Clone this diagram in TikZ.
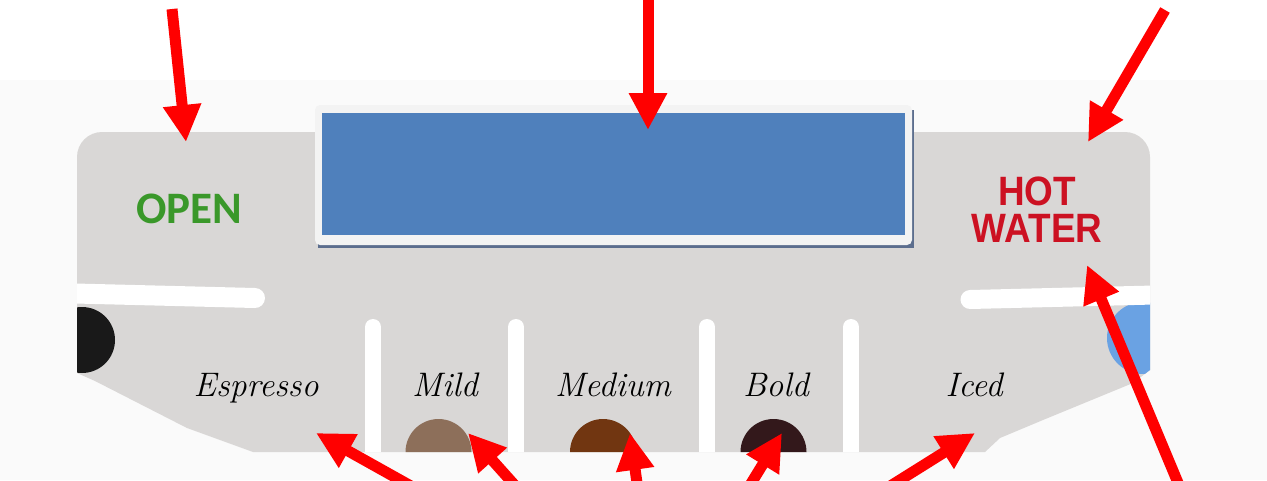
\documentclass[tikz,border=0pt]{standalone}
\usepackage{fontspec}
\usetikzlibrary{arrows.meta}
\newfontfamily\openfont{Carlito}
\newfontfamily\hotfont{Liberation Sans}
\definecolor{panel}{HTML}{D9D7D6}
\definecolor{bgband}{HTML}{FAFAFA}
\definecolor{dispblue}{HTML}{4F80BC}
\definecolor{dispframe}{HTML}{F3F3F3}
\definecolor{dispshadow}{HTML}{5C6E8E}
\definecolor{opengreen}{HTML}{3A982A}
\definecolor{hotred}{HTML}{CC1122}
\definecolor{mildc}{HTML}{8D6F5A}
\definecolor{mediumc}{HTML}{713611}
\definecolor{boldc}{HTML}{33181B}
\definecolor{bluebtn}{HTML}{6AA2E3}
\definecolor{arrowred}{HTML}{FF0000}
\tikzset{
  callout/.style={draw=arrowred, line width=11pt, -{Triangle[length=37pt,width=36pt]}},
  slot/.style={draw=white, line cap=round},
  hand/.style={font=\fontsize{34}{36}\selectfont\itshape, text=black, anchor=base, inner sep=0pt},
}
\def\panelpath{(77,157) arc[start angle=180,end angle=270,radius=25] -- (1125,132)
  arc[start angle=270,end angle=360,radius=25] -- (1150,370) -- (1133,383) -- (1043,420)
  -- (1000,438) -- (985,452) -- (253,452) -- (187,428) -- (95,381) -- (77,373) -- cycle}
\begin{document}
\begin{tikzpicture}[x=1pt,y=-1pt]
\clip (0,0) rectangle (1267,480);
\fill[white] (0,0) rectangle (1267,480);
\fill[bgband] (0,80) rectangle (1267,480);
% panel shape
\fill[panel] \panelpath;
\begin{scope}
  \clip \panelpath;
  % side buttons
  \fill[black!90] (82,340) circle[radius=33];
  \fill[bluebtn] (1143,338) circle[radius=36];
  % white slots
  \draw[slot, line width=20pt] (55,293) -- (255,298);
  \draw[slot, line width=19pt] (970,299.5) -- (1175,294.5);
  \foreach \sx/\sn in {373/s1,516/s2,707/s3,851/s4}{
    \draw[slot, line width=16pt] (\sx,327) coordinate (\sn) -- (\sx,475);
  }
  % coffee strength dots
  \fill[mildc] (438.5,452) circle[radius=33];
  \fill[mediumc] (603,452) circle[radius=33];
  \fill[boldc] (773.5,452) circle[radius=33];
\end{scope}
% display
\fill[dispshadow] (318,110) rectangle (914,248);
\fill[dispframe, rounded corners=5pt] (315,105) rectangle (912,245);
\fill[dispblue] (322,113) rectangle (905,235);
\node[inner sep=0pt, minimum width=583pt, minimum height=122pt] (display) at (613.5,174) {};
% labels
\node[font=\openfont\bfseries\fontsize{45}{45}\selectfont, text=opengreen, anchor=base, inner sep=0pt] (open) at (189,223) {OPEN};
\node[font=\hotfont\bfseries\fontsize{41}{37}\selectfont, text=hotred, align=center, inner sep=0pt, xscale=0.9] (hot) at (1037,210) {HOT\\WATER};
\node[hand] (espresso) at (256,396) {Espresso};
\node[hand] (mild) at (445,396) {Mild};
\node[hand] (medium) at (613,396) {Medium};
\node[hand] (bold) at (776,396) {Bold};
\node[hand] (iced) at (974,396) {Iced};
% arrow end points
\coordinate (tOpen) at (186,142);
\coordinate (tDisp) at (648,130);
\coordinate (tHot) at (1088,142);
\coordinate (tHotB) at (1087,265);
\coordinate (tEsp) at (316,433);
\coordinate (tMild) at (468,433);
\coordinate (tMed) at (630,433);
\coordinate (tBold) at (782,433);
\coordinate (tIced) at (975,433);
\coordinate (sOpen) at (172,9);
\coordinate (sDisp) at (648,-5);
\coordinate (sHot) at (1165,10);
\coordinate (sHotB) at (1181,490);
\coordinate (sEsp) at (418,490);
\coordinate (sMild) at (519,490);
\coordinate (sMed) at (638,490);
\coordinate (sBold) at (747,490);
\coordinate (sIced) at (884,490);
\draw[callout] (sOpen) -- (tOpen);
\draw[callout] (sDisp) -- (tDisp);
\draw[callout] (sHot) -- (tHot);
\draw[callout] (sHotB) -- (tHotB);
\draw[callout] (sEsp) -- (tEsp);
\draw[callout] (sMild) -- (tMild);
\draw[callout] (sMed) -- (tMed);
\draw[callout] (sBold) -- (tBold);
\draw[callout] (sIced) -- (tIced);
\end{tikzpicture}
\end{document}
